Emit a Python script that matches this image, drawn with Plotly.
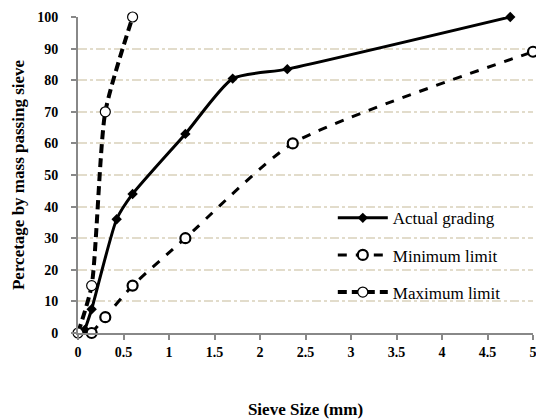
import plotly.graph_objects as go

# Data
actual_x = [0.075, 0.15, 0.425, 0.6, 1.18, 1.7, 2.3, 4.75]
actual_y = [1, 7.5, 36, 44, 63, 80.5, 83.5, 100]

min_x = [0.15, 0.3, 0.6, 1.18, 2.36, 5.0]
min_y = [0, 5, 15, 30, 60, 89]

max_x = [0, 0.15, 0.3, 0.6]
max_y = [0, 15, 70, 100]

serif = "Liberation Serif, Times New Roman, serif"

fig = go.Figure()
fig.add_trace(go.Scatter(
    x=actual_x, y=actual_y, name="Actual grading", mode="lines+markers",
    line=dict(color="black", width=3, shape="spline", smoothing=0.6),
    marker=dict(symbol="diamond", size=8, color="black"),
    legendgroup="a", cliponaxis=False))
fig.add_trace(go.Scatter(
    x=min_x, y=min_y, name="Minimum limit", mode="lines+markers",
    line=dict(color="black", width=3, dash="9px,9px", shape="spline", smoothing=0.6),
    marker=dict(symbol="circle", size=10, color="white", line=dict(width=2.2, color="black")),
    legendgroup="b", cliponaxis=False))
fig.add_trace(go.Scatter(
    x=max_x, y=max_y, name="Maximum limit", mode="lines+markers",
    line=dict(color="black", width=4, dash="9px,5px", shape="spline", smoothing=0.6),
    marker=dict(symbol="circle", size=10, color="white", line=dict(width=1.2, color="black")),
    legendgroup="c", cliponaxis=False))

fig.update_layout(
    width=536, height=419,
    margin=dict(l=78, r=3, t=17, b=86),
    paper_bgcolor="white", plot_bgcolor="white",
    showlegend=True,
    legend=dict(x=0.56, y=0.42, xanchor="left", yanchor="top",
                font=dict(family=serif, size=17, color="black"),
                tracegroupgap=12, itemwidth=50, bgcolor="rgba(0,0,0,0)"),
    xaxis=dict(range=[0, 5], dtick=0.5, tick0=0, automargin=False,
               showgrid=False, zeroline=False, ticklabeloverflow="allow",
               showline=True, linecolor="#888888", linewidth=2,
               ticks="outside", ticklen=5, tickcolor="#888888", tickwidth=1.5,
               tickfont=dict(family=serif, size=14, color="black", weight="bold"),
               title=dict(text="<b>Sieve Size (mm)</b>", standoff=45,
                          font=dict(family=serif, size=17, color="black"))),
    yaxis=dict(range=[0, 100], dtick=10, automargin=False,
               showgrid=True, gridcolor="#e2dccb", gridwidth=1.5, griddash="dashdot",
               zeroline=False, ticklabeloverflow="allow",
               showline=True, linecolor="#888888", linewidth=2,
               ticks="outside", ticklen=5, tickcolor="#888888", tickwidth=1.5,
               ticklabelstandoff=10,
               tickfont=dict(family=serif, size=14, color="black", weight="bold"),
               title=dict(text="<b>Percetage by mass passing sieve</b>", standoff=8,
                          font=dict(family=serif, size=17, color="black"))),
)

fig.write_html("out.html", config={"displayModeBar": False},
               post_script="document.body.style.margin='0';")
